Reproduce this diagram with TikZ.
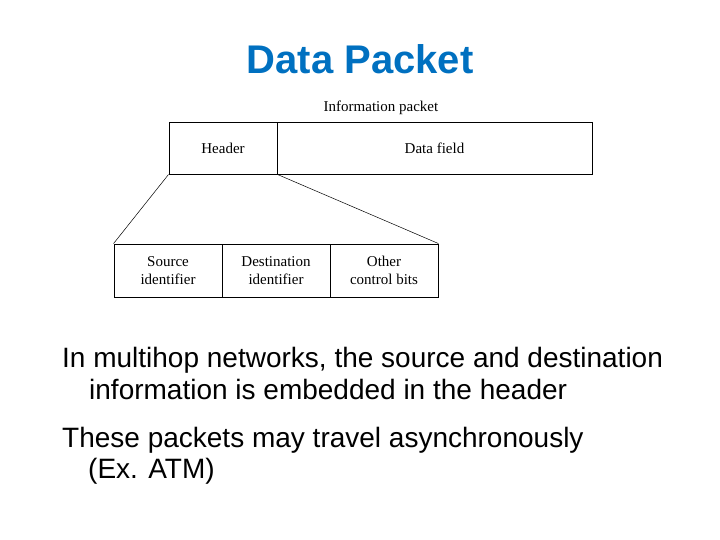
\documentclass[tikz,border=0pt]{standalone}
\usepackage{fontspec}
\setmainfont{Liberation Serif}
\newfontfamily\slidefont{Liberation Sans}
\definecolor{titleblue}{RGB}{0,112,192}
\usetikzlibrary{positioning}

\begin{document}
\begin{tikzpicture}[x=1pt,y=-1pt,
        field/.style={draw,line width=0.9pt,align=center,inner sep=0pt,
                      minimum height=52pt,
                      font=\fontsize{15}{18}\selectfont},
        bodyline/.style={anchor=base west,inner sep=0pt,
                         font=\slidefont\fontsize{28}{32}\selectfont}]
        \useasboundingbox (0,0) rectangle (720,540);
        % title
        \node[anchor=base,inner sep=0pt,text=titleblue,
              font=\slidefont\bfseries\fontsize{40}{44}\selectfont] (title) at (360,74) {Data Packet};
        % information packet
        \node[anchor=base,inner sep=0pt,font=\fontsize{15}{18}\selectfont] (info) at (381,112) {Information packet};
        \node[field,minimum width=108pt] (hdr) at (223,148) {Header};
        \node[field,minimum width=315pt] (data) at (434.5,148) {Data field};
        % header fields
        \node[field,minimum width=108pt,minimum height=53pt] (src) at (168,270.5) {Source\\identifier};
        \node[field,minimum width=108pt,minimum height=53pt] (dst) at (276,270.5) {Destination\\identifier};
        \node[field,minimum width=108pt,minimum height=53pt] (oth) at (384,270.5) {Other\\control bits};
        \draw[line width=0.5pt] (hdr.south west) -- (src.north west);
        \draw[line width=0.5pt] (hdr.south east) -- (oth.north east);
        % text
        \node[bodyline] (l1) at (62,367) {In multihop networks, the source and destination};
        \node[bodyline] (l2) at (89,399) {information is embedded in the header};
        \node[bodyline] (l3) at (62,447) {These packets may travel asynchronously};
        \node[bodyline] (l4) at (88,478) {(Ex. ATM)};
      \end{tikzpicture}
\end{document}
